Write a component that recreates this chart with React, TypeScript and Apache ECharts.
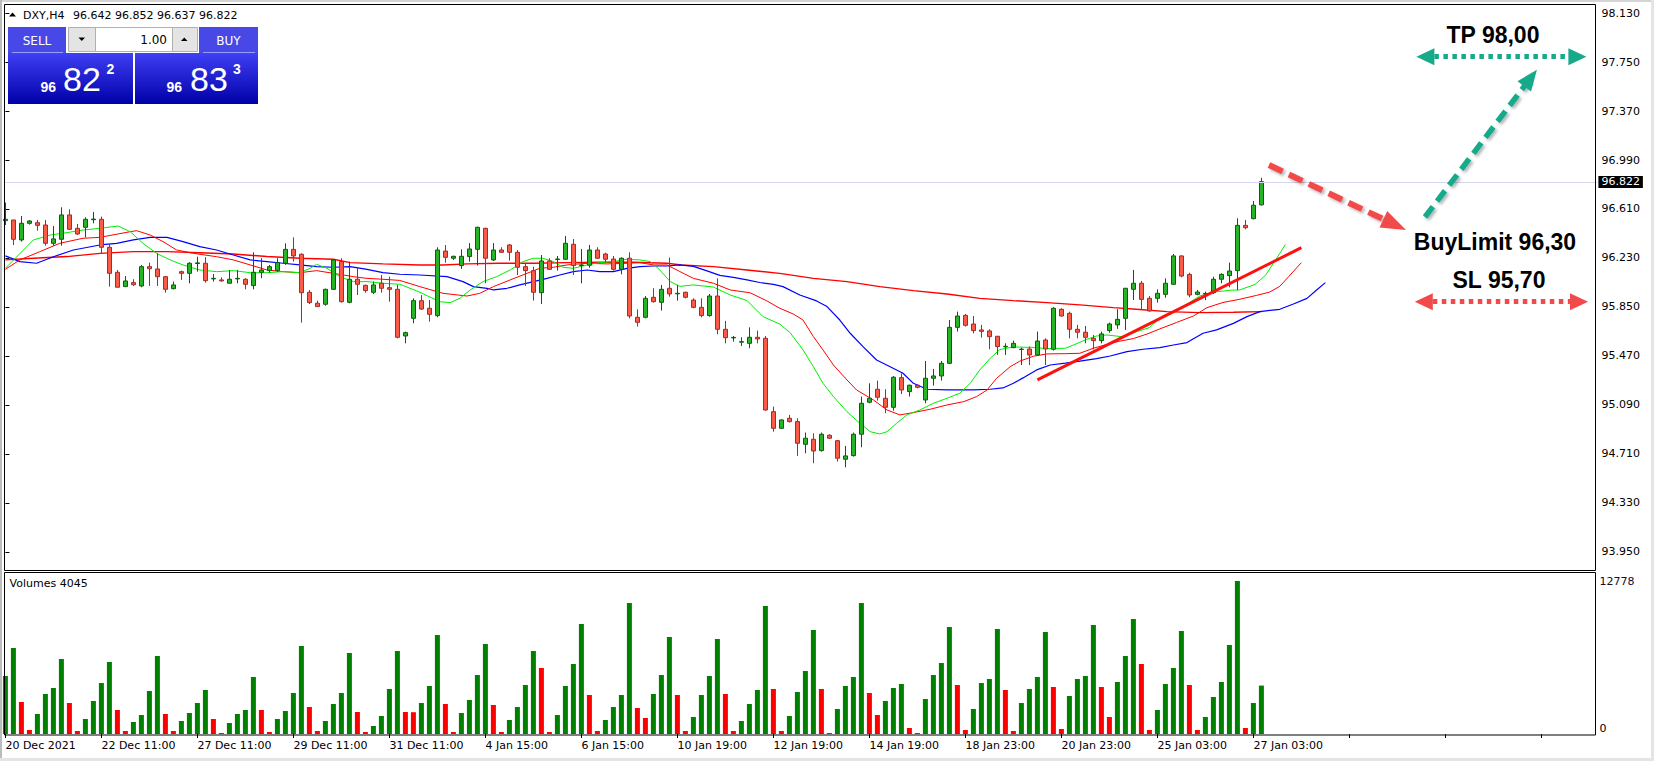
import React, { useEffect, useRef } from 'react';
import * as echarts from 'echarts';

// ---- Data (DXY, H4) ----
const opens = [96.52,96.525,96.370,96.499,96.504,96.486,96.344,96.375,96.564,96.460,
96.468,96.527,96.530,96.313,96.119,96.008,96.039,96.013,96.163,96.145,
96.085,95.992,96.124,96.111,96.187,96.189,96.068,96.060,96.034,96.068,
96.065,96.016,96.119,96.132,96.132,96.189,96.297,96.259,95.964,95.879,
95.871,95.987,96.202,95.886,96.065,96.018,95.964,96.034,96.000,95.987,
95.625,95.762,95.899,95.840,95.783,96.284,96.228,96.171,96.241,96.297,
96.460,96.215,96.292,96.331,96.274,96.163,96.132,95.961,96.207,96.218,
96.220,96.336,96.172,96.174,96.292,96.261,96.222,96.142,96.228,95.770,
95.770,95.925,95.886,95.995,95.952,95.964,95.904,95.847,95.783,95.935,
95.677,95.610,95.577,95.568,95.615,95.607,95.038,94.909,94.987,94.961,
94.785,94.824,94.736,94.855,94.813,94.669,94.697,94.863,95.111,95.212,
95.142,95.072,95.302,95.194,95.243,95.129,95.297,95.315,95.413,95.692,
95.785,95.718,95.672,95.664,95.623,95.541,95.535,95.520,95.524,95.478,
95.594,95.522,95.832,95.801,95.677,95.654,95.607,95.589,95.667,95.711,
95.762,95.987,96.034,95.917,95.917,95.948,96.026,96.246,96.103,95.948,
95.950,95.961,96.065,96.093,96.132,96.483,96.535,96.642];

const highs = [96.66,96.525,96.556,96.525,96.525,96.525,96.478,96.623,96.607,96.494,
96.545,96.587,96.551,96.339,96.137,96.090,96.065,96.176,96.194,96.266,
96.090,96.047,96.132,96.197,96.240,96.236,96.106,96.080,96.137,96.137,
96.073,96.274,96.228,96.176,96.228,96.344,96.390,96.266,95.982,95.899,
95.992,96.220,96.228,96.202,96.158,96.023,96.047,96.098,96.085,96.021,
95.659,95.917,95.943,95.904,96.313,96.331,96.248,96.297,96.346,96.473,
96.465,96.346,96.313,96.339,96.292,96.189,96.163,96.253,96.228,96.246,
96.401,96.377,96.300,96.331,96.313,96.271,96.246,96.235,96.274,95.832,
95.935,95.995,96.021,96.233,96.021,95.969,95.917,95.917,95.951,96.072,
95.742,95.625,95.615,95.692,95.667,95.625,95.077,94.979,95.013,94.987,
94.876,94.870,94.876,94.863,94.819,94.772,94.876,95.155,95.258,95.279,
95.212,95.315,95.336,95.248,95.248,95.431,95.369,95.431,95.749,95.814,
95.796,95.780,95.711,95.677,95.625,95.568,95.589,95.535,95.543,95.659,
95.607,95.848,95.840,95.814,95.711,95.703,95.633,95.659,95.729,95.832,
95.998,96.137,96.052,95.935,95.987,96.072,96.261,96.251,96.116,95.982,
95.969,96.085,96.111,96.194,96.538,96.525,96.672,96.852];

const lows = [96.486,96.331,96.357,96.489,96.442,96.326,96.326,96.326,96.447,96.408,
96.390,96.499,96.266,96.008,96.003,96.008,96.013,96.003,96.013,96.013,
95.961,95.987,96.060,96.034,96.124,96.039,96.047,96.047,96.034,96.034,
95.987,95.987,96.073,96.116,96.124,96.176,96.202,95.729,95.873,95.853,
95.860,95.982,95.884,95.879,95.943,95.961,95.951,95.961,95.891,95.607,
95.568,95.724,95.827,95.736,95.770,96.194,96.215,96.145,96.202,96.171,
96.034,96.207,96.271,96.209,96.098,96.013,95.899,95.873,96.137,96.132,
96.215,96.098,96.034,96.155,96.222,96.197,96.132,96.103,95.762,95.698,
95.762,95.884,95.822,95.930,95.899,95.917,95.840,95.770,95.775,95.638,
95.568,95.581,95.548,95.530,95.568,95.046,94.883,94.904,94.953,94.695,
94.715,94.638,94.728,94.829,94.651,94.607,94.690,94.762,95.103,95.124,
95.026,95.046,95.175,95.155,95.219,95.103,95.240,95.279,95.408,95.659,
95.698,95.646,95.612,95.522,95.478,95.478,95.530,95.400,95.400,95.470,
95.400,95.512,95.775,95.607,95.607,95.568,95.522,95.568,95.651,95.680,
95.672,95.904,95.827,95.814,95.884,95.922,96.021,96.080,95.925,95.941,
95.904,95.951,96.034,96.003,95.982,96.452,96.530,96.637];

const closes = [96.53,96.375,96.499,96.517,96.483,96.344,96.378,96.564,96.452,96.416,
96.530,96.532,96.313,96.111,96.003,96.052,96.023,96.163,96.147,96.085,
95.987,96.021,96.111,96.189,96.192,96.054,96.072,96.052,96.065,96.072,
96.026,96.119,96.137,96.163,96.194,96.297,96.246,95.961,95.884,95.853,
95.987,96.215,95.891,96.065,96.026,95.977,96.021,95.995,95.987,95.615,
95.651,95.899,95.834,95.793,96.292,96.235,96.243,96.243,96.300,96.468,
96.228,96.292,96.274,96.274,96.158,96.132,95.964,96.207,96.142,96.222,
96.344,96.171,96.176,96.292,96.228,96.220,96.142,96.228,95.780,95.731,
95.917,95.891,95.987,95.951,95.956,95.925,95.847,95.783,95.935,95.677,
95.612,95.614,95.581,95.615,95.602,95.051,94.909,94.974,94.961,94.793,
94.832,94.733,94.863,94.832,94.677,94.695,94.863,95.103,95.142,95.150,
95.072,95.305,95.206,95.243,95.227,95.297,95.315,95.413,95.692,95.780,
95.708,95.667,95.661,95.620,95.543,95.545,95.568,95.523,95.478,95.586,
95.524,95.840,95.780,95.677,95.654,95.615,95.589,95.641,95.718,95.754,
95.995,96.034,95.909,95.819,95.956,96.034,96.246,96.090,95.943,95.966,
95.955,96.065,96.103,96.129,96.483,96.465,96.639,96.822];

const volumes = [4844,7183,2673,334,1670,3341,3842,6264,2589,251,
1253,2756,4260,6013,2004,251,1002,1587,3591,6515,
1670,251,1086,1754,2589,3675,1253,84,919,1670,
2004,4761,2004,167,1253,1921,3424,7350,2255,251,
1086,2506,3424,6765,1837,167,668,1503,3758,6932,
1837,1820,2589,4009,8268,2506,167,1754,2840,4928,
7517,2422,167,1169,2255,4092,6932,5512,167,1587,
4009,5846,9187,3257,251,1169,2255,3257,10941,2172,
1336,3341,4928,8101,3257,251,1420,3257,4844,7934,
3341,251,1086,2506,3675,10691,3758,251,1503,3508,
5262,8686,3758,84,2088,4009,4761,10941,3424,1587,
2756,3842,4176,501,84,2923,4928,5930,8937,4092,
334,2088,4260,4594,8770,3675,251,2589,3758,4761,
8519,3925,418,3174,4594,4844,9104,3925,1420,4343,
6515,9605,5846,334,2004,4176,5512,8603,4092,334,
1420,3090,4343,7433,12778,501,2589,4045];

const timeLabels = ['20 Dec 2021', '22 Dec 11:00', '27 Dec 11:00', '29 Dec 11:00', '31 Dec 11:00',
  '4 Jan 15:00', '6 Jan 15:00', '10 Jan 19:00', '12 Jan 19:00', '14 Jan 19:00',
  '18 Jan 23:00', '20 Jan 23:00', '25 Jan 03:00', '27 Jan 03:00'];
const priceTicks = [93.95, 94.33, 94.71, 95.09, 95.47, 95.85, 96.23, 96.61, 96.99, 97.37, 97.75, 98.13];
const volumeTicks = [0, 12778];
const lastPrice = 96.822;

// Alligator lips (green), teeth (red), jaw (blue) and a long MA (red): [bar position, price]
const lipsLine = [[0,96.150],[3.5,96.370],[5.6,96.408],[7.7,96.427],[9.7,96.447],[11.8,96.460],[14.1,96.478],[15.6,96.434],[17.2,96.344],[18.9,96.266],[20.6,96.215],[22.2,96.176],[24.3,96.137],[26.4,96.124],[28.5,96.132],[30.6,96.116],[32.7,96.116],[34.7,96.124],[36.8,96.116],[38.1,96.150],[38.9,96.181],[40.2,96.150],[41.8,96.085],[43.5,96.047],[45.2,96.047],[47.2,96.034],[49.3,96.026],[51.6,95.970],[54.3,95.891],[55.6,95.884],[56.8,95.917],[58.1,95.982],[59.7,96.047],[61.4,96.085],[63.1,96.137],[64.7,96.202],[66,96.228],[67.2,96.228],[68.5,96.202],[69.7,96.158],[71,96.150],[72.7,96.176],[74.3,96.194],[76,96.202],[77.7,96.220],[79.3,96.215],[80.6,96.202],[81.8,96.137],[83.1,96.047],[84.3,96.010],[86,96.021],[88.5,96.005],[90.6,95.943],[92.7,95.900],[94.7,95.775],[96.8,95.717],[98.1,95.650],[99.7,95.517],[101,95.387],[102.2,95.258],[103.5,95.155],[105.2,95.038],[106.8,94.948],[108.1,94.883],[109.3,94.865],[110.2,94.883],[111.4,94.948],[112.7,95.013],[114.3,95.051],[116,95.103],[117.7,95.142],[119.3,95.181],[120.6,95.258],[121.8,95.362],[123.1,95.452],[124.3,95.520],[126,95.540],[128.3,95.537],[130.2,95.527],[132.5,95.530],[133.5,95.555],[135.2,95.600],[136.4,95.625],[137.7,95.633],[139.5,95.620],[141.5,95.660],[143,95.690],[144.5,95.775],[147.2,95.853],[149.3,95.935],[151,95.965],[153.1,95.980],[154.3,95.982],[156.2,96.025],[157.5,96.095],[158.5,96.189],[159.4,96.275],[160,96.336]];
const teethLine = [[0,96.142],[1.8,96.215],[4.3,96.279],[6.8,96.344],[9.7,96.383],[11.8,96.390],[15.6,96.434],[16.4,96.442],[18.1,96.408],[19.7,96.357],[21.4,96.292],[23.5,96.266],[26.4,96.240],[28.5,96.215],[30.6,96.176],[32.7,96.137],[34.7,96.124],[36.8,96.116],[38.9,96.132],[41,96.111],[43.5,96.085],[45.2,96.072],[47.2,96.065],[49.3,96.056],[51.8,96.008],[54.7,95.956],[57.7,95.935],[59.3,95.956],[61,96.008],[63.1,96.060],[65.2,96.111],[66.8,96.150],[68.5,96.158],[70.2,96.176],[72.7,96.189],[75.2,96.184],[77.7,96.189],[79.3,96.194],[81,96.176],[82.7,96.176],[84.3,96.125],[86,96.072],[88.5,96.034],[90.6,95.982],[93.1,95.960],[95.1,95.900],[96.8,95.840],[98.5,95.795],[99.7,95.749],[101,95.620],[102.2,95.517],[103.5,95.400],[105.2,95.284],[106.4,95.206],[108.5,95.129],[110.2,95.051],[111.8,95.013],[113.5,95.031],[115.6,95.057],[117.7,95.090],[119.8,95.116],[121.4,95.155],[122.7,95.206],[123.9,95.297],[125.6,95.387],[126.8,95.430],[128.5,95.468],[130.2,95.486],[132.5,95.488],[134.3,95.491],[136,95.530],[137.7,95.560],[139.3,95.585],[141,95.605],[142.7,95.640],[144.3,95.680],[146.4,95.730],[148.5,95.780],[150.2,95.845],[152.2,95.885],[154.3,95.910],[156.4,95.940],[158,95.965],[159.3,96.010],[160.4,96.085],[162,96.194]];
const jawLine = [[0,96.246],[1.8,96.202],[3.9,96.189],[6,96.240],[8.5,96.292],[11.8,96.331],[13.9,96.344],[16,96.370],[18.1,96.390],[20.2,96.390],[22.2,96.357],[24.3,96.318],[26.4,96.292],[28.5,96.253],[30.6,96.215],[32.7,96.202],[34.7,96.189],[36.8,96.176],[38.9,96.163],[41,96.158],[43.1,96.163],[45.2,96.142],[47.2,96.116],[49.3,96.104],[51.8,96.098],[55.2,96.085],[57.2,96.047],[58.5,96.008],[60.2,95.995],[61,95.982],[62.7,95.995],[64.3,96.021],[66,96.047],[67.7,96.072],[69.3,96.098],[71,96.124],[72.7,96.137],[74.3,96.124],[76,96.124],[77.7,96.150],[79.3,96.163],[81,96.168],[82.7,96.168],[84.3,96.176],[86,96.165],[87.7,96.130],[89.3,96.095],[91,96.080],[92.7,96.060],[94.3,96.040],[96,96.025],[97.2,96.008],[99.3,95.943],[101.4,95.897],[102.7,95.853],[104.3,95.749],[105.6,95.646],[107.2,95.542],[108.9,95.439],[110.6,95.387],[112.2,95.336],[113.5,95.258],[115.2,95.212],[117.7,95.207],[121,95.207],[123.1,95.212],[124.7,95.222],[126,95.258],[127.2,95.300],[128.9,95.362],[130.6,95.400],[132.5,95.415],[134.3,95.430],[136.4,95.450],[138.1,95.470],[140.2,95.504],[142.2,95.522],[144.3,95.535],[146,95.555],[147.7,95.574],[149.7,95.646],[151.4,95.672],[153.5,95.723],[155.2,95.775],[156.8,95.814],[159.3,95.832],[161,95.873],[162.7,95.917],[163.9,95.982],[165,96.039]];
const longMaLine = [[0,96.215],[3.5,96.228],[7.7,96.241],[11.8,96.266],[16,96.279],[20.2,96.279],[24.3,96.271],[28.5,96.261],[32.7,96.241],[36.8,96.228],[41,96.220],[43.1,96.194],[47.2,96.184],[51.8,96.176],[54.7,96.176],[57.7,96.184],[61.8,96.189],[66,96.189],[70.2,96.194],[74.3,96.197],[78.5,96.197],[82.7,96.189],[84.5,96.176],[88.5,96.163],[92.7,96.137],[96.8,96.111],[101,96.072],[105.2,96.047],[109.3,96.008],[113.5,95.977],[117.7,95.951],[121.8,95.917],[126,95.899],[130.2,95.884],[134.3,95.866],[138.5,95.845],[141.8,95.830],[145.2,95.814],[149.3,95.806],[153.5,95.809],[157,95.814]];
const trendLine = [[129.0, 95.284], [162.0, 96.310]];

// annotation arrows (bar position, price)
const tpArrow = [[177.5, 97.791], [196.5, 97.791]];
const slArrow = [[177.3, 95.891], [196.7, 95.891]];
const upArrow = [[177.45, 96.548], [190.65, 97.626]];
const downArrow = [[157.95, 96.951], [173.66, 96.489]];

const SLOTS = 200;

const FONT = 'DejaVu Sans';
const TEAL = '#16a98a';
const SALMON = '#f24a4a';

export default function App() {
  const ref = useRef<HTMLDivElement>(null);

  useEffect(() => {
    if (!ref.current) return;
    const chart = echarts.init(ref.current, null, { renderer: 'svg' });

    const categories = Array.from({ length: SLOTS }, (_, i) => String(i));
    const candleData = opens.map((o, i) => [o, closes[i], lows[i], highs[i]]);
    const volData = volumes.map((v, i) => ({
      value: v,
      itemStyle: { color: i === 0 || v > volumes[i - 1] ? '#008000' : '#ff0000' },
    }));

    const shadow = { shadowColor: 'rgba(0,0,0,0.3)', shadowBlur: 3, shadowOffsetX: 2, shadowOffsetY: 2 };
    const arrowPair = (pts: number[][], color: string, dash: number[], width: number, size: number[], both: boolean, withShadow: boolean) => {
      const ls = { color, width, type: dash, cap: 'butt', ...(withShadow ? shadow : {}) };
      return [
        { coord: pts[0], symbol: both ? 'triangle' : 'none', symbolSize: size, lineStyle: ls, itemStyle: { color } },
        { coord: pts[1], symbol: 'triangle', symbolSize: size, lineStyle: ls, itemStyle: { color } },
      ];
    };

    const grad = () => new echarts.graphic.LinearGradient(0, 0, 0, 1, [
      { offset: 0, color: '#3f3ff4' }, { offset: 1, color: '#0000a8' },
    ]);

    const txt = (text: string, x: number, y: number, font: string, fill: string, align = 'left') => ({
      type: 'text', z: 110, silent: true,
      style: { text, x, y, font, fill, textAlign: align, textVerticalAlign: 'middle' },
    });

    const elements: any[] = [
      // window frame
      { type: 'rect', z: 100, silent: true, shape: { x: 0, y: 0, width: 1654, height: 2 }, style: { fill: '#d4d4d4' } },
      { type: 'rect', z: 100, silent: true, shape: { x: 0, y: 0, width: 2, height: 761 }, style: { fill: '#bcbcbc' } },
      { type: 'rect', z: 100, silent: true, shape: { x: 1651, y: 0, width: 3, height: 761 }, style: { fill: '#e4e4e4' } },
      { type: 'rect', z: 100, silent: true, shape: { x: 0, y: 758, width: 1654, height: 3 }, style: { fill: '#e4e4e4' } },
      // panel borders
      { type: 'rect', z: 100, silent: true, shape: { x: 4.5, y: 4.5, width: 1591, height: 566 }, style: { fill: 'none', stroke: '#000', lineWidth: 1 } },
      { type: 'rect', z: 100, silent: true, shape: { x: 4.5, y: 572.5, width: 1591, height: 162.5 }, style: { fill: 'none', stroke: '#000', lineWidth: 1 } },
      // header
      { type: 'polygon', z: 110, silent: true, shape: { points: [[9, 16.5], [16, 16.5], [12.5, 12.5]] }, style: { fill: '#000' } },
      txt('DXY,H4', 23, 15, `11px "${FONT}"`, '#000'),
      txt('96.642 96.852 96.637 96.822', 73, 15, `11px "${FONT}"`, '#000'),
      txt('Volumes 4045', 9.5, 583, `11px "${FONT}"`, '#000'),
      // trade panel
      { type: 'rect', z: 105, silent: true, shape: { x: 8, y: 27, width: 58, height: 26 }, style: { fill: '#4848e6' } },
      { type: 'rect', z: 105, silent: true, shape: { x: 199, y: 27, width: 59, height: 26 }, style: { fill: '#4848e6' } },
      { type: 'line', z: 106, silent: true, shape: { x1: 12, y1: 52.5, x2: 63, y2: 52.5 }, style: { stroke: '#9a9aff', lineWidth: 1 } },
      { type: 'line', z: 106, silent: true, shape: { x1: 203, y1: 52.5, x2: 255, y2: 52.5 }, style: { stroke: '#9a9aff', lineWidth: 1 } },
      { type: 'rect', z: 105, silent: true, shape: { x: 8, y: 53, width: 125, height: 51 }, style: { fill: grad() } },
      { type: 'rect', z: 105, silent: true, shape: { x: 135, y: 53, width: 123, height: 51 }, style: { fill: grad() } },
      { type: 'rect', z: 105, silent: true, shape: { x: 68.5, y: 27.5, width: 129, height: 24 }, style: { fill: '#e4e4e4', stroke: '#b0b0b0', lineWidth: 1 } },
      { type: 'rect', z: 106, silent: true, shape: { x: 95.5, y: 27.5, width: 77, height: 24 }, style: { fill: '#ffffff', stroke: '#b0b0b0', lineWidth: 1 } },
      { type: 'polygon', z: 107, silent: true, shape: { points: [[78.5, 37.5], [85, 37.5], [81.75, 41]] }, style: { fill: '#000' } },
      { type: 'polygon', z: 107, silent: true, shape: { points: [[181, 41], [187.5, 41], [184.25, 37.5]] }, style: { fill: '#000' } },
      txt('1.00', 167, 39.5, `12px "${FONT}"`, '#000', 'right'),
      txt('SELL', 37, 40.5, `12px "${FONT}"`, '#ffffff', 'center'),
      txt('BUY', 228.5, 40.5, `12px "${FONT}"`, '#ffffff', 'center'),
      txt('96', 40.5, 86.5, 'bold 14px "Liberation Sans"', '#ffffff'),
      txt('82', 63, 78.5, '34px "Liberation Sans"', '#ffffff'),
      txt('2', 106.5, 68.5, 'bold 14px "Liberation Sans"', '#ffffff'),
      txt('96', 166.5, 86.5, 'bold 14px "Liberation Sans"', '#ffffff'),
      txt('83', 190, 78.5, '34px "Liberation Sans"', '#ffffff'),
      txt('3', 233, 68.5, 'bold 14px "Liberation Sans"', '#ffffff'),
      // annotation labels
      txt('TP 98,00', 1493, 35, 'bold 23px "Liberation Sans"', '#000', 'center'),
      txt('BuyLimit 96,30', 1495, 242, 'bold 23px "Liberation Sans"', '#000', 'center'),
      txt('SL 95,70', 1499, 280, 'bold 23px "Liberation Sans"', '#000', 'center'),
    ];

    const axisText = { fontSize: 11, fontFamily: FONT, color: '#000' };

    chart.setOption({
      animation: false,
      backgroundColor: '#ffffff',
      grid: [
        { left: 5.4, top: 4, width: 1592, height: 566 },
        { left: 5.4, top: 572.5, width: 1592, height: 161.5 },
      ],
      xAxis: [
        { type: 'category', gridIndex: 0, data: categories, boundaryGap: false, show: false },
        { type: 'value', gridIndex: 0, min: 0, max: SLOTS - 1, show: false },
        {
          type: 'category', gridIndex: 1, data: categories, boundaryGap: false,
          axisLine: { show: false },
          axisTick: { show: true, interval: 11, length: 4, lineStyle: { color: '#000', width: 1 } },
          axisLabel: {
            ...axisText, interval: 11, align: 'left', margin: 6,
            formatter: (_v: string, idx: number) => timeLabels[idx / 12] ?? '',
          },
          splitLine: { show: false },
        },
      ],
      yAxis: [
        {
          type: 'value', gridIndex: 0, position: 'right', min: 93.81, max: 98.2,
          axisLine: { show: false }, splitLine: { show: false },
          axisTick: { show: true, length: 4, customValues: priceTicks, lineStyle: { color: '#000' } },
          axisLabel: { ...axisText, margin: 4, customValues: priceTicks, formatter: (v: number) => v.toFixed(3) },
        },
        {
          type: 'value', gridIndex: 1, position: 'right', min: 0, max: 13488,
          axisLine: { show: false }, splitLine: { show: false }, axisTick: { show: false },
          axisLabel: {
            ...axisText, margin: 2, customValues: volumeTicks,
            formatter: (v: number) => (v === 0 ? '{z|0}' : `{m|${v}}`),
            rich: {
              z: { ...axisText, padding: [0, 0, 12, 0] },
              m: { ...axisText, color: '#1a0a30' },
            },
          },
        },
      ],
      series: [
        {
          type: 'line', name: 'longMA', xAxisIndex: 1, yAxisIndex: 0, data: longMaLine,
          showSymbol: false, symbol: 'none', lineStyle: { color: '#ff0000', width: 1.4 }, z: 1,
        },
        {
          type: 'line', name: 'jaw', xAxisIndex: 1, yAxisIndex: 0, data: jawLine,
          showSymbol: false, symbol: 'none', lineStyle: { color: '#0000ff', width: 1.2 }, z: 1,
        },
        {
          type: 'line', name: 'teeth', xAxisIndex: 1, yAxisIndex: 0, data: teethLine,
          showSymbol: false, symbol: 'none', lineStyle: { color: '#ff0000', width: 1 }, z: 1,
        },
        {
          type: 'line', name: 'lips', xAxisIndex: 1, yAxisIndex: 0, data: lipsLine,
          showSymbol: false, symbol: 'none', lineStyle: { color: '#00ee00', width: 1 }, z: 1,
        },
        {
          type: 'candlestick', xAxisIndex: 0, yAxisIndex: 0, data: candleData, barWidth: 4.4, z: 3,
          itemStyle: { color: '#27b527', color0: '#fa5a46', borderColor: '#0b5e0b', borderColor0: '#a52a2a', borderWidth: 1 },
          markLine: {
            silent: true, symbol: 'none', animation: false,
            data: [{ yAxis: lastPrice }],
            lineStyle: { color: '#d6d6f0', width: 1, type: 'solid' },
            label: {
              position: 'end', distance: 1, formatter: lastPrice.toFixed(3),
              backgroundColor: '#000', color: '#fff', fontSize: 11, fontFamily: FONT, padding: [1, 3, 0, 3],
            },
          },
        },
        {
          type: 'line', name: 'trend', xAxisIndex: 1, yAxisIndex: 0, data: trendLine,
          showSymbol: false, symbol: 'none', lineStyle: { color: '#ff1010', width: 3 }, z: 4,
          markLine: {
            silent: true, animation: false, label: { show: false },
            data: [
              arrowPair(tpArrow, TEAL, [4.5, 4.5], 5, [17, 18], true, false),
              arrowPair(slArrow, SALMON, [4.5, 4.5], 5, [17, 18], true, false),
              arrowPair(upArrow, TEAL, [13, 7], 5.5, [17, 21], false, true),
              arrowPair(downArrow, SALMON, [15, 7], 6, [18, 25], false, true),
            ],
          },
        },
        {
          type: 'bar', xAxisIndex: 2, yAxisIndex: 1, data: volData, barWidth: 5, z: 2,
        },
      ],
      graphic: { elements },
    });

    return () => chart.dispose();
  }, []);

  return <div ref={ref} style={{ position: 'absolute', left: 0, top: 0, width: 1654, height: 761 }} />;
}
